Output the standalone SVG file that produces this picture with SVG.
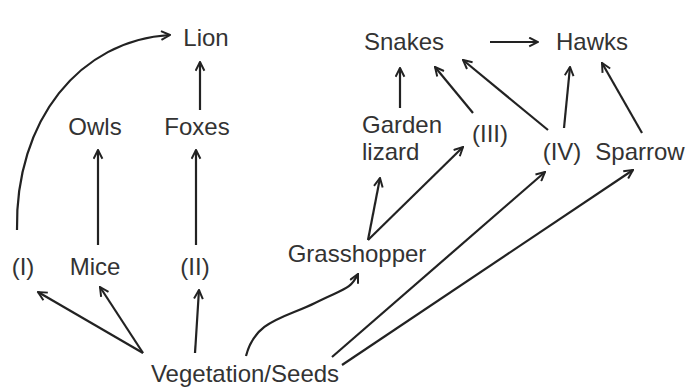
<svg xmlns="http://www.w3.org/2000/svg" width="689" height="391" viewBox="0 0 689 391">
<style>
.t{font-family:"Liberation Sans",Arial,sans-serif;font-size:24px;fill:#333;text-anchor:middle}
.l{text-anchor:start}
.c path,.c line{stroke:#222;stroke-width:2.2;fill:none;marker-end:url(#a)}
</style>
<defs>
<marker id="a" viewBox="0 0 10 10" refX="9" refY="5" markerWidth="11" markerHeight="11" markerUnits="userSpaceOnUse" orient="auto">
<path d="M1,1 L9,5 L1,9" fill="none" stroke="#222" stroke-width="1.8"/>
</marker>
</defs>
<rect width="689" height="391" fill="#fff"/>
<g class="c" id="connectors">
<path d="M17,230 C15,120 80,40 170,35"/>
<line x1="200" y1="110" x2="200" y2="62"/>
<line x1="98" y1="245" x2="98" y2="150"/>
<line x1="196" y1="245" x2="196" y2="150"/>
<line x1="143" y1="353" x2="38" y2="292"/>
<line x1="143" y1="353" x2="100" y2="287"/>
<line x1="195" y1="353" x2="199" y2="290"/>
<path d="M246,356 C255,320 285,318 315,303 S350,290 358,274"/>
<line x1="368" y1="240" x2="380" y2="178"/>
<line x1="368" y1="240" x2="463" y2="147"/>
<line x1="332" y1="357" x2="545" y2="172"/>
<line x1="342" y1="365" x2="633" y2="170"/>
<line x1="490" y1="42" x2="538" y2="42"/>
<line x1="400" y1="108" x2="400" y2="68"/>
<line x1="473" y1="113" x2="435" y2="67"/>
<line x1="548" y1="130" x2="463" y2="60"/>
<line x1="564" y1="128" x2="570" y2="67"/>
<line x1="642" y1="133" x2="602" y2="63"/>
</g>
<g id="lion"><text class="t" x="206" y="46">Lion</text></g>
<g id="owls"><text class="t" x="95" y="135">Owls</text></g>
<g id="foxes"><text class="t" x="197" y="135">Foxes</text></g>
<g id="n1"><text class="t" x="23" y="275">(I)</text></g>
<g id="mice"><text class="t" x="95" y="275">Mice</text></g>
<g id="n2"><text class="t" x="195" y="275">(II)</text></g>
<g id="veg"><text class="t" x="245" y="382">Vegetation/Seeds</text></g>
<g id="grasshopper"><text class="t" x="357" y="262">Grasshopper</text></g>
<g id="snakes"><text class="t" x="404" y="50">Snakes</text></g>
<g id="hawks"><text class="t" x="592" y="50">Hawks</text></g>
<g id="lizard"><text class="t l" x="362" y="133">Garden</text><text class="t l" x="362" y="160">lizard</text></g>
<g id="n3"><text class="t" x="490" y="142">(III)</text></g>
<g id="n4"><text class="t" x="562" y="160">(IV)</text></g>
<g id="sparrow"><text class="t" x="640" y="160">Sparrow</text></g>
</svg>
